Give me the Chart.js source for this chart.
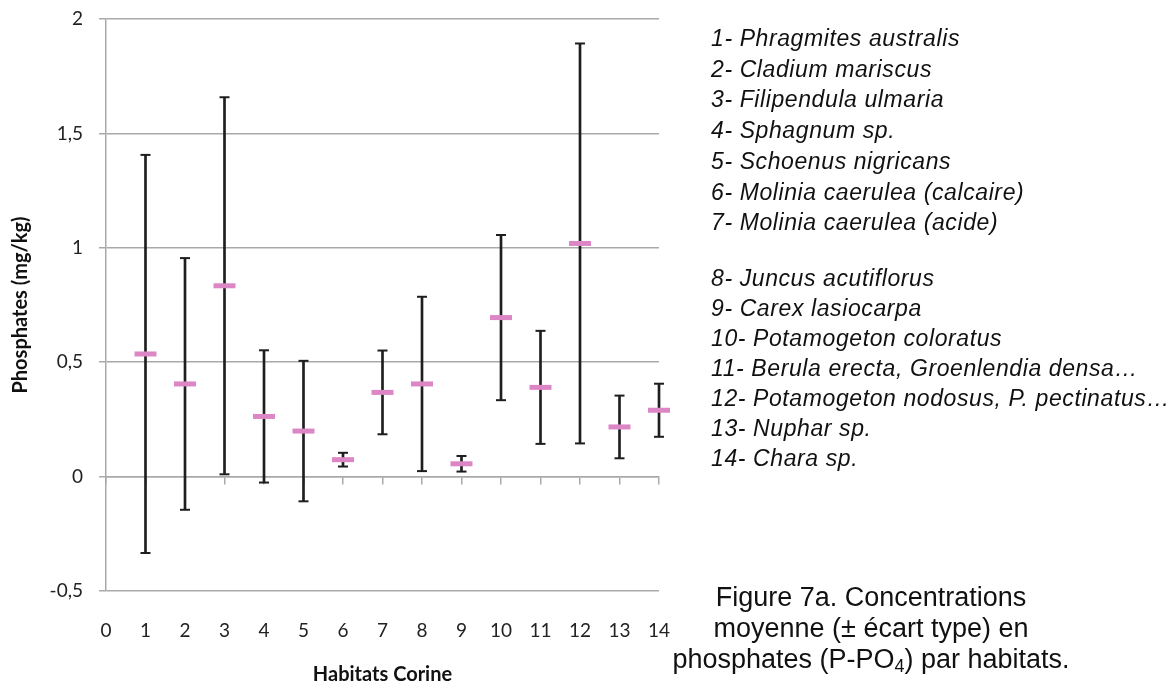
<!DOCTYPE html>
<html lang="fr">
<head>
<meta charset="utf-8">
<title>Phosphates par habitats</title>
<script src="https://cdn.jsdelivr.net/npm/chart.js@4/dist/chart.umd.min.js"></script>
<style>
  html, body { margin: 0; padding: 0; background: #fff; }
  #wrap { position: relative; width: 1176px; height: 684px; overflow: hidden; }
  #phosphateChart { position: absolute; left: 0; top: 0; }
  .species {
    position: absolute; left: 711px; margin: 0; padding: 0; list-style: none;
    font-family: "Liberation Sans", Arial, sans-serif; font-style: italic;
    font-size: 23px; letter-spacing: 0.6px; color: #111; white-space: nowrap;
  }
  #speciesA { top: 23px; line-height: 30.7px; }
  #speciesB { top: 263px; line-height: 30px; }
  #caption {
    position: absolute; left: 621px; top: 582px; width: 500px; text-align: center;
    font-family: "Liberation Sans", Arial, sans-serif; font-size: 27px;
    line-height: 31px; color: #111;
  }
  #caption sub { font-size: 18px; line-height: 0; vertical-align: -4px; }
</style>
</head>
<body>
<div id="wrap">
  <canvas id="phosphateChart" width="1176" height="684"></canvas>
  <ul class="species" id="speciesA"></ul>
  <ul class="species" id="speciesB"></ul>
  <div id="caption">Figure 7a. Concentrations<br>moyenne (± écart type) en<br>phosphates (P-PO<sub>4</sub>) par habitats.</div>
</div>
<script>
// Habitat numbers on the x axis
const habitats = [1, 2, 3, 4, 5, 6, 7, 8, 9, 10, 11, 12, 13, 14];
// Mean P-PO4 (mg/kg) per habitat
const means = [0.536, 0.405, 0.834, 0.263, 0.199, 0.074, 0.368, 0.405, 0.056, 0.695, 0.390, 1.019, 0.217, 0.290];
// Standard deviation per habitat
const stdDevs = [0.870, 0.550, 0.824, 0.289, 0.307, 0.030, 0.183, 0.381, 0.034, 0.361, 0.247, 0.874, 0.137, 0.116];

const xTickValues = [0, 1, 2, 3, 4, 5, 6, 7, 8, 9, 10, 11, 12, 13, 14];
const yTickValues = [-0.5, 0, 0.5, 1, 1.5, 2];
const yTickLabels = ['-0,5', '0', '0,5', '1', '1,5', '2'];

const speciesA = [
  '1- Phragmites australis',
  '2- Cladium mariscus',
  '3- Filipendula ulmaria',
  '4- Sphagnum sp.',
  '5- Schoenus nigricans',
  '6- Molinia caerulea (calcaire)',
  '7- Molinia caerulea (acide)'
];
const speciesB = [
  '8- Juncus acutiflorus',
  '9- Carex lasiocarpa',
  '10- Potamogeton coloratus',
  '11- Berula erecta, Groenlendia densa…',
  '12- Potamogeton nodosus, P. pectinatus…',
  '13- Nuphar sp.',
  '14- Chara sp.'
];

function fillList(id, items) {
  const ul = document.getElementById(id);
  items.forEach(txt => {
    const li = document.createElement('li');
    li.textContent = txt;
    ul.appendChild(li);
  });
}
fillList('speciesA', speciesA);
fillList('speciesB', speciesB);

const gridGray = '#a9a9a9';
const barBlack = '#1e1e1e';
const pink = '#dc86c6';
const axisFont = 'Lato, "Open Sans", sans-serif';

const meanPoints = habitats.map((h, i) => ({ x: h, y: means[i] }));
const upperCaps = habitats.map((h, i) => ({ x: h, y: means[i] + stdDevs[i] }));
const lowerCaps = habitats.map((h, i) => ({ x: h, y: means[i] - stdDevs[i] }));
const stems = habitats.map((h, i) => ({ x: h, y: [means[i] - stdDevs[i], means[i] + stdDevs[i]] }));

const ctx = document.getElementById('phosphateChart').getContext('2d');

new Chart(ctx, {
  type: 'scatter',
  data: {
    datasets: [
      {
        label: 'Moyenne',
        data: meanPoints,
        order: 0,
        clip: false,
        pointStyle: 'line',
        pointRadius: 11,
        pointBorderWidth: 5,
        pointBorderColor: pink,
        pointBackgroundColor: pink
      },
      {
        label: '+ écart type',
        data: upperCaps,
        order: 1,
        clip: false,
        pointStyle: 'line',
        pointRadius: 5,
        pointBorderWidth: 2,
        pointBorderColor: barBlack
      },
      {
        label: '- écart type',
        data: lowerCaps,
        order: 1,
        clip: false,
        pointStyle: 'line',
        pointRadius: 5,
        pointBorderWidth: 2,
        pointBorderColor: barBlack
      },
      {
        type: 'bar',
        label: 'Écart type',
        data: stems,
        order: 2,
        clip: false,
        barThickness: 2,
        backgroundColor: barBlack,
        borderWidth: 0
      }
    ]
  },
  options: {
    responsive: false,
    animation: false,
    events: [],
    layout: { padding: { top: 19, right: 517, bottom: -3, left: 0 } },
    plugins: {
      legend: { display: false },
      tooltip: { enabled: false }
    },
    scales: {
      x: {
        type: 'linear',
        position: 'bottom',
        min: 0,
        max: 14,
        offset: false,
        afterBuildTicks: scale => { scale.ticks = xTickValues.map(v => ({ value: v })); },
        afterFit: scale => { scale.height = 96; },
        grid: { display: false, drawTicks: false },
        border: { display: false },
        ticks: {
          padding: 28,
          color: '#222',
          font: { family: axisFont, size: 19 },
          maxRotation: 0
        },
        title: {
          display: true,
          text: 'Habitats Corine',
          color: '#111',
          padding: 0,
          font: { family: axisFont, size: 20, weight: 'bold' }
        }
      },
      xZero: {
        type: 'linear',
        axis: 'x',
        position: { y: 0 },
        min: 0,
        max: 14,
        afterBuildTicks: scale => { scale.ticks = xTickValues.map(v => ({ value: v })); },
        grid: { drawOnChartArea: false, drawTicks: true, tickLength: 7, color: gridGray, lineWidth: 1.5 },
        border: { display: true, color: gridGray, width: 1.5 },
        ticks: { display: false }
      },
      y: {
        type: 'linear',
        min: -0.5,
        max: 2,
        afterBuildTicks: scale => { scale.ticks = yTickValues.map(v => ({ value: v })); },
        afterFit: scale => {
          scale.width = 106;
          // labels sit beside the gridlines, no extra room needed above/below
          scale.paddingTop = 0;
          scale.paddingBottom = 0;
        },
        grid: { color: gridGray, lineWidth: 1.5, tickLength: 7 },
        border: { color: gridGray, width: 1.5 },
        ticks: {
          padding: 16,
          color: '#222',
          font: { family: axisFont, size: 19 },
          callback: (value) => {
            const idx = yTickValues.indexOf(value);
            return idx >= 0 ? yTickLabels[idx] : '';
          }
        },
        title: {
          display: true,
          text: 'Phosphates (mg/kg)',
          color: '#111',
          padding: { top: 9, bottom: 0 },
          font: { family: axisFont, size: 20, weight: 'bold' }
        }
      }
    }
  }
});
</script>
</body>
</html>
